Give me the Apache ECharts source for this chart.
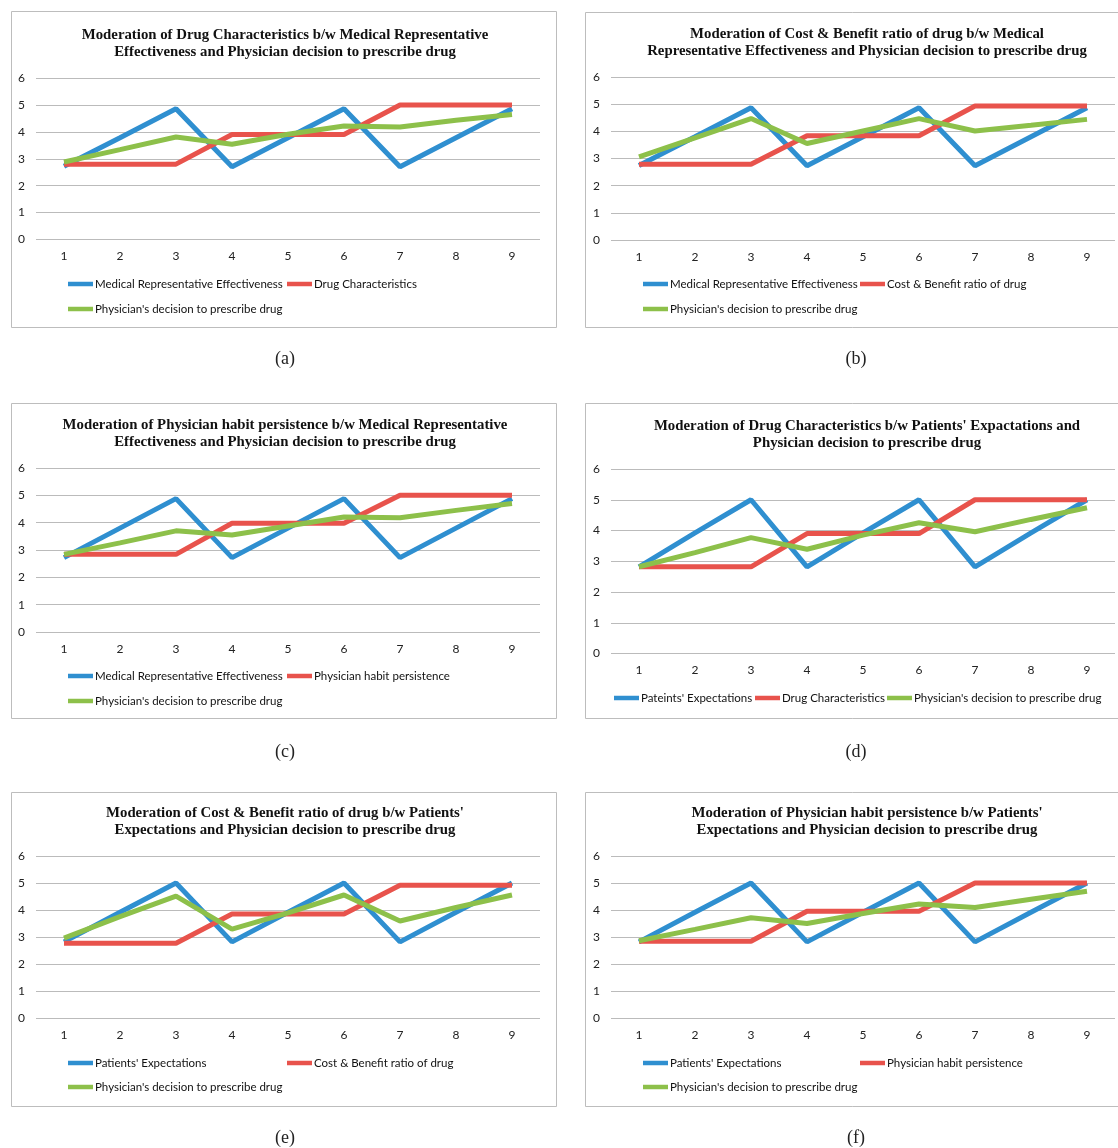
<!DOCTYPE html>
<html>
<head>
<meta charset="utf-8">
<script src="https://cdn.jsdelivr.net/npm/echarts@6/dist/echarts.min.js"></script>
<style>
  html, body { margin: 0; padding: 0; background: #fff; }
  #main { width: 1118px; height: 1148px; }
</style>
</head>
<body>
<div id="main"></div>
<script>
/*
* data
*/
var categories = ['1', '2', '3', '4', '5', '6', '7', '8', '9'];

var mreA      = [2.72, 3.78, 4.86, 2.70, 3.78, 4.86, 2.70, 3.78, 4.86];
var drugA     = [2.80, 2.80, 2.80, 3.90, 3.90, 3.90, 5.00, 5.00, 5.00];
var decisionA = [2.88, 3.34, 3.81, 3.54, 3.91, 4.22, 4.18, 4.43, 4.64];

var mreB      = [2.74, 3.80, 4.87, 2.73, 3.80, 4.87, 2.73, 3.80, 4.87];
var costB     = [2.79, 2.79, 2.79, 3.84, 3.84, 3.84, 4.93, 4.93, 4.93];
var decisionB = [3.06, 3.76, 4.47, 3.55, 4.01, 4.47, 4.01, 4.22, 4.44];

var mreC      = [2.72, 3.80, 4.88, 2.72, 3.80, 4.88, 2.72, 3.80, 4.88];
var habitC    = [2.84, 2.84, 2.84, 3.98, 3.98, 3.98, 5.00, 5.00, 5.00];
var decisionC = [2.84, 3.26, 3.70, 3.55, 3.88, 4.21, 4.18, 4.45, 4.70];

var patientsD = [2.82, 3.92, 5.00, 2.82, 3.92, 5.00, 2.82, 3.92, 5.00];
var drugD     = [2.82, 2.82, 2.82, 3.90, 3.90, 3.90, 5.00, 5.00, 5.00];
var decisionD = [2.82, 3.28, 3.77, 3.39, 3.85, 4.25, 3.96, 4.36, 4.74];

var patientsE = [2.83, 3.92, 5.00, 2.83, 3.92, 5.00, 2.83, 3.92, 5.00];
var costE     = [2.78, 2.78, 2.78, 3.86, 3.86, 3.86, 4.92, 4.92, 4.92];
var decisionE = [2.97, 3.76, 4.52, 3.30, 3.90, 4.56, 3.60, 4.10, 4.56];

var patientsF = [2.83, 3.92, 5.00, 2.83, 3.92, 5.00, 2.83, 3.92, 5.00];
var habitF    = [2.85, 2.85, 2.85, 3.96, 3.96, 3.96, 5.00, 5.00, 5.00];
var decisionF = [2.87, 3.29, 3.72, 3.51, 3.88, 4.23, 4.10, 4.40, 4.70];

var colors = ['#2F8FD0', '#E8534C', '#8DC04A'];

var panels = [
    {
        caption: '(a)',
        title: 'Moderation of Drug Characteristics b/w Medical Representative\nEffectiveness and Physician decision to prescribe drug',
        names: ['Medical Representative Effectiveness', 'Drug Characteristics', "Physician's decision to prescribe drug"],
        data: [mreA, drugA, decisionA]
    },
    {
        caption: '(b)',
        title: 'Moderation of Cost & Benefit ratio of drug b/w Medical\nRepresentative Effectiveness and Physician decision to prescribe drug',
        names: ['Medical Representative Effectiveness', 'Cost & Benefit ratio of drug', "Physician's decision to prescribe drug"],
        data: [mreB, costB, decisionB]
    },
    {
        caption: '(c)',
        title: 'Moderation of Physician habit persistence b/w Medical Representative\nEffectiveness and Physician decision to prescribe drug',
        names: ['Medical Representative Effectiveness', 'Physician habit persistence', "Physician's decision to prescribe drug"],
        data: [mreC, habitC, decisionC]
    },
    {
        caption: '(d)',
        title: "Moderation of Drug Characteristics b/w Patients' Expactations and\nPhysician decision to prescribe drug",
        names: ["Pateints' Expectations", 'Drug Characteristics', "Physician's decision to prescribe drug"],
        data: [patientsD, drugD, decisionD]
    },
    {
        caption: '(e)',
        title: "Moderation of Cost & Benefit ratio of drug b/w Patients'\nExpectations and Physician decision to prescribe drug",
        names: ["Patients' Expectations", 'Cost & Benefit ratio of drug', "Physician's decision to prescribe drug"],
        data: [patientsE, costE, decisionE]
    },
    {
        caption: '(f)',
        title: "Moderation of Physician habit persistence b/w Patients'\nExpectations and Physician decision to prescribe drug",
        names: ["Patients' Expectations", 'Physician habit persistence', "Physician's decision to prescribe drug"],
        data: [patientsF, habitF, decisionF]
    }
];

// pixel layout of each panel
var layouts = [
    { box: [11, 11, 545, 316], grid: [36, 78, 504, 161.5], titleX: 285, titleY: 26,
      legend: [[68, 284], [287, 284], [68, 309]], cap: [285, 359] },
    { box: [585, 12, 540, 315], grid: [611, 77, 504, 163], titleX: 867, titleY: 25,
      legend: [[643, 284], [860, 284], [643, 309]], cap: [856, 359] },
    { box: [11, 403, 545, 315], grid: [36, 468, 504, 164], titleX: 285, titleY: 416,
      legend: [[68, 676], [287, 676], [68, 701]], cap: [285, 752] },
    { box: [585, 403, 540, 315], grid: [611, 469, 504, 184.5], titleX: 867, titleY: 417,
      legend: [[614, 698], [755, 698], [887, 698]], cap: [856, 752] },
    { box: [11, 792, 545, 314], grid: [36, 856, 504, 162.5], titleX: 285, titleY: 804,
      legend: [[68, 1063], [287, 1063], [68, 1087]], cap: [285, 1138] },
    { box: [585, 792, 540, 314], grid: [611, 856, 504, 162.5], titleX: 867, titleY: 804,
      legend: [[643, 1063], [860, 1063], [643, 1087]], cap: [856, 1138] }
];

var sansFont = 'Lato';
var option = {
    backgroundColor: '#fff',
    animation: false,
    title: [],
    grid: [],
    xAxis: [],
    yAxis: [],
    legend: [],
    series: [],
    graphic: []
};

panels.forEach(function (p, i) {
    var L = layouts[i];
    option.graphic.push({
        type: 'rect', silent: true, z: -1,
        shape: { x: L.box[0] + 0.5, y: L.box[1] + 0.5, width: L.box[2], height: L.box[3] },
        style: { fill: 'none', stroke: '#BDBDBD', lineWidth: 1 }
    });
    option.graphic.push({
        type: 'text', silent: true,
        x: L.cap[0], y: L.cap[1],
        style: { text: p.caption, font: '18px "Liberation Serif"', fill: '#222',
                 textAlign: 'center', textVerticalAlign: 'middle' }
    });
    option.title.push({
        text: p.title,
        left: L.titleX, top: L.titleY, textAlign: 'center', padding: 0,
        textStyle: { fontFamily: 'Liberation Serif', fontWeight: 'bold', fontSize: 14.8,
                     lineHeight: 17.5, color: '#111' }
    });
    option.grid.push({ left: L.grid[0], top: L.grid[1], width: L.grid[2], height: L.grid[3] });
    option.xAxis.push({
        type: 'category', gridIndex: i, data: categories, boundaryGap: true,
        axisLine: { show: false }, axisTick: { show: false },
        axisLabel: { margin: 11, fontFamily: sansFont, fontSize: 12, color: '#222' }
    });
    option.yAxis.push({
        type: 'value', gridIndex: i, min: 0, max: 6, interval: 1,
        axisLine: { show: false }, axisTick: { show: false },
        axisLabel: { margin: 11, fontFamily: sansFont, fontSize: 12, color: '#222' },
        splitLine: { lineStyle: { color: '#BBBBBB', width: 1 } }
    });
    p.names.forEach(function (name, k) {
        option.series.push({
            name: name, type: 'line', xAxisIndex: i, yAxisIndex: i,
            data: p.data[k], symbol: 'none', color: colors[k],
            lineStyle: { width: 5, color: colors[k] }
        });
        option.legend.push({
            data: [name], left: L.legend[k][0], top: L.legend[k][1] - 7,
            padding: 0, icon: 'rect', itemWidth: 25, itemHeight: 4.5,
            selectedMode: false,
            textStyle: { fontFamily: sansFont, fontSize: 11.5, lineHeight: 14, color: '#111', padding: [0, 0, 0, -3] }
        });
    });
});

var myChart = echarts.init(document.getElementById('main'));
myChart.setOption(option);
</script>
</body>
</html>
